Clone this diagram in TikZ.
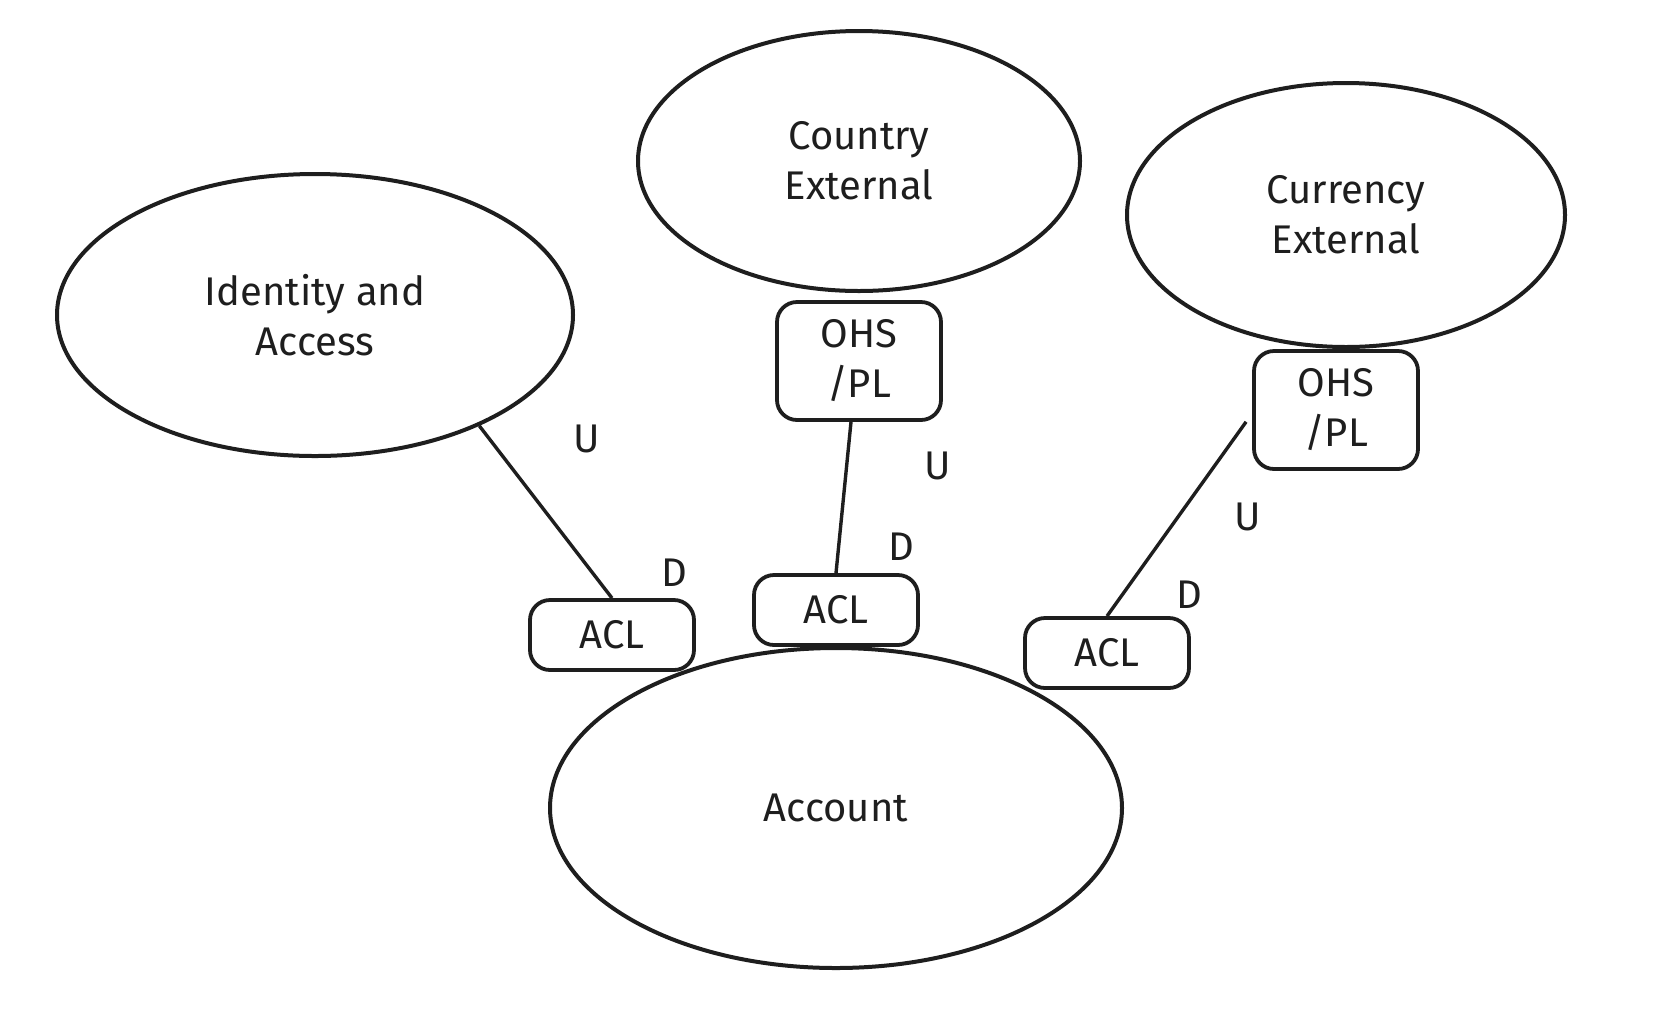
\documentclass[tikz,border=0pt]{standalone}
\usepackage{fontspec}
\setmainfont{Fira Sans}
\usetikzlibrary{shapes.geometric}
\definecolor{ink}{HTML}{1E1E1E}

\begin{document}
\begin{tikzpicture}[x=0.5pt, y=-0.5pt,
    font=\fontsize{20}{25}\selectfont, color=ink,
    context/.style={draw, ellipse, line width=2pt, align=center, inner sep=0pt},
    layer/.style={draw, rounded corners=10pt, line width=1.9pt, align=center,
        inner sep=0pt, minimum width=82pt},
    link/.style={line width=1.7pt}]

\useasboundingbox (0, 0) rectangle (1660, 1024);

% bounded contexts
\node[context, minimum width=258pt, minimum height=141pt] (idacc) at (315, 315) {Identity and\\Access};
\node[context, minimum width=221pt, minimum height=130pt] (country) at (859, 161) {Country\\External};
\node[context, minimum width=219pt, minimum height=132pt] (currency) at (1346, 215) {Currency\\External};
\node[context, minimum width=286pt, minimum height=160pt] (account) at (836, 808) {Account};

% open host services
\node[layer, minimum height=59pt] (ohsA) at (859, 361) {OHS\\/PL};
\node[layer, minimum height=59pt] (ohsB) at (1336, 410) {OHS\\/PL};

% anti corruption layers
\node[layer, minimum height=35pt] (aclA) at (612, 635) {ACL};
\node[layer, minimum height=35pt] (aclB) at (836, 610) {ACL};
\node[layer, minimum height=35pt] (aclC) at (1107, 653) {ACL};

\draw[link] (idacc.-34) -- (aclA.north);
\draw[link] ([xshift=-4pt]ohsA.south) -- (aclB.north);
\draw[link] ([xshift=-3pt]ohsB.-172) -- (aclC.north);

% upstream / downstream
\node (upA) at (587, 439) {U};
\node (upB) at (938, 466) {U};
\node (upC) at (1248, 517) {U};
\node (downA) at (674, 573) {D};
\node (downB) at (901, 547) {D};
\node (downC) at (1189, 595) {D};

\end{tikzpicture}
\end{document}
